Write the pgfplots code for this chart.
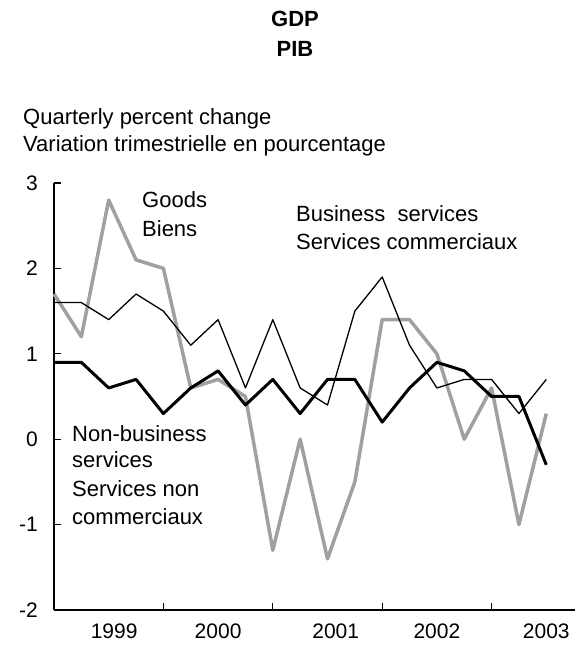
\documentclass[border=0pt]{standalone}
\usepackage{fontspec}
\setmainfont{Liberation Sans}
\usepackage{pgfplots}
\pgfplotsset{compat=1.18}
\definecolor{goodsgray}{RGB}{160,160,160}
\newcommand{\txt}{\fontsize{22bp}{27bp}\selectfont}
\newcommand{\tck}{\fontsize{21bp}{25bp}\selectfont}
\begin{document}
\begin{tikzpicture}[x=1bp,y=1bp]
\useasboundingbox (0,0) rectangle (577,645);
% titles
\node[anchor=base,inner sep=0pt,font=\txt\bfseries] at (295,618) {GDP};
\node[anchor=base,inner sep=0pt,font=\txt\bfseries] at (295,588) {PIB};
\node[anchor=base west,inner sep=0pt,font=\txt] at (23,520) {Quarterly percent change};
\node[anchor=base west,inner sep=0pt,font=\txt] at (23,493) {Variation trimestrielle en pourcentage};
\begin{axis}[
  at={(54bp,35bp)}, anchor=south west,
  scale only axis, width=521bp, height=427bp,
  xmin=0, xmax=19.05, ymin=-2, ymax=3,
  axis lines=left,
  axis line style={-, line width=1.4bp, black},
  xtick={4,8,12,16}, xticklabels={},
  ytick={-2,-1,0,1,2,3},
  tick align=inside,
  major tick length=7bp,
  tick style={line width=1.2bp, black},
  /pgf/number format/assume math mode=true,
  yticklabel style={font=\tck, anchor=east, inner sep=0pt, xshift=-16bp},
  clip=false,
]
\addplot[goodsgray, line width=3.5bp, line join=round] coordinates {
(0,1.7) (1,1.2) (2,2.8) (3,2.1) (4,2.0) (5,0.6) (6,0.7) (7,0.5) (8,-1.3) (9,0.0)
(10,-1.4) (11,-0.5) (12,1.4) (13,1.4) (14,1.0) (15,0.0) (16,0.6) (17,-1.0) (18,0.3)};
\addplot[black, line width=1.3bp, line join=round] coordinates {
(0,1.6) (1,1.6) (2,1.4) (3,1.7) (4,1.5) (5,1.1) (6,1.4) (7,0.6) (8,1.4) (9,0.6)
(10,0.4) (11,1.5) (12,1.9) (13,1.1) (14,0.6) (15,0.7) (16,0.7) (17,0.3) (18,0.7)};
\addplot[black, line width=3bp, line join=round] coordinates {
(0,0.9) (1,0.9) (2,0.6) (3,0.7) (4,0.3) (5,0.6) (6,0.8) (7,0.4) (8,0.7) (9,0.3)
(10,0.7) (11,0.7) (12,0.2) (13,0.6) (14,0.9) (15,0.8) (16,0.5) (17,0.5) (18,-0.3)};
\node[anchor=north,inner sep=0pt,yshift=-14bp,font=\tck] at (axis cs:2.2,-2) {1999};
\node[anchor=north,inner sep=0pt,yshift=-14bp,font=\tck] at (axis cs:6,-2) {2000};
\node[anchor=north,inner sep=0pt,yshift=-14bp,font=\tck] at (axis cs:10.3,-2) {2001};
\node[anchor=north,inner sep=0pt,yshift=-14bp,font=\tck] at (axis cs:14,-2) {2002};
\node[anchor=north,inner sep=0pt,yshift=-14bp,font=\tck] at (axis cs:18,-2) {2003};
\end{axis}
% series labels
\node[anchor=base west,inner sep=0pt,font=\txt] at (142,437) {Goods};
\node[anchor=base west,inner sep=0pt,font=\txt] at (142,408) {Biens};
\node[anchor=base west,inner sep=0pt,font=\txt] at (296,423) {Business\ \ services};
\node[anchor=base west,inner sep=0pt,font=\txt] at (296,395) {Services commerciaux};
\node[anchor=base west,inner sep=0pt,font=\txt] at (72,203) {Non-business};
\node[anchor=base west,inner sep=0pt,font=\txt] at (72,177) {services};
\node[anchor=base west,inner sep=0pt,font=\txt] at (72,148) {Services non};
\node[anchor=base west,inner sep=0pt,font=\txt] at (72,120) {commerciaux};
\end{tikzpicture}
\end{document}
